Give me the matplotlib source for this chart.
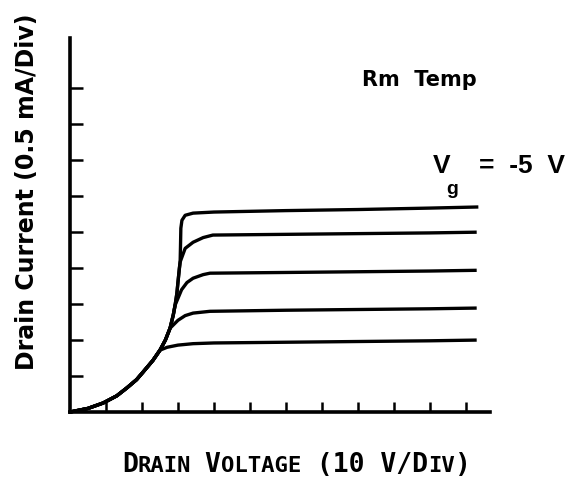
import matplotlib
matplotlib.use("Agg")
import matplotlib.pyplot as plt

# Shared rising trunk (Drain voltage in divisions, drain current in divisions)
trunk_x = [0.0, 0.5, 0.92, 1.3, 1.58, 1.85, 2.03, 2.3, 2.5, 2.65, 2.78, 2.87, 2.92, 2.97, 3.0, 3.04, 3.06, 3.07, 3.08, 3.11, 3.2, 3.42, 4.0, 6.0, 8.0, 10.0, 11.3]
trunk_y = [0.0, 0.1, 0.25, 0.45, 0.67, 0.9, 1.11, 1.43, 1.72, 2.0, 2.33, 2.7, 2.97, 3.3, 3.61, 4.0, 4.17, 4.6, 5.11, 5.33, 5.47, 5.53, 5.56, 5.6, 5.63, 5.67, 5.7]

# Branches (leaving the trunk after the given number of trunk points)
c1_branch = 9
c1_x = [2.7, 3.0, 3.42, 4.0, 6.0, 8.0, 10.0, 11.3]
c1_y = [1.8, 1.86, 1.9, 1.92, 1.94, 1.96, 1.98, 2.0]

c2_branch = 11
c2_x = [3.0, 3.2, 3.42, 3.89, 6.0, 8.0, 10.0, 11.3]
c2_y = [2.55, 2.68, 2.75, 2.8, 2.83, 2.85, 2.87, 2.89]

c3_branch = 13
c3_x = [3.1, 3.25, 3.42, 3.7, 3.89, 6.0, 8.0, 10.0, 11.3]
c3_y = [3.4, 3.6, 3.72, 3.82, 3.86, 3.88, 3.9, 3.92, 3.94]

c4_branch = 17
c4_x = [3.2, 3.42, 3.7, 3.97, 6.0, 8.0, 10.0, 11.3]
c4_y = [4.55, 4.72, 4.85, 4.92, 4.94, 4.96, 4.98, 5.0]

x_ticks = [1, 2, 3, 4, 5, 6, 7, 8, 9, 10, 11]
y_ticks = [1, 2, 3, 4, 5, 6, 7, 8, 9]

W, H = 579, 487
fig = plt.figure(figsize=(5.79, 4.87), dpi=100)
ax = fig.add_axes([0.1209, 0.154, 0.7254, 0.768])
ax.set_xlim(0, 11.67)
ax.set_ylim(0, 10.4)

lw = 2.4
for bx, by, n in [(c1_x, c1_y, c1_branch), (c2_x, c2_y, c2_branch),
                  (c3_x, c3_y, c3_branch), (c4_x, c4_y, c4_branch)]:
    ax.plot(trunk_x[:n] + bx, trunk_y[:n] + by, color="black", lw=lw,
            solid_capstyle="butt", solid_joinstyle="round", clip_on=False)
ax.plot(trunk_x, trunk_y, color="black", lw=lw, solid_joinstyle="round", clip_on=False)

for s in ["top", "right"]:
    ax.spines[s].set_visible(False)
for s in ["left", "bottom"]:
    ax.spines[s].set_linewidth(2.6)
ax.set_xticks(x_ticks)
ax.set_yticks(y_ticks)
ax.tick_params(axis="y", direction="in", length=9.5, width=1.8, labelleft=False)
ax.tick_params(axis="x", direction="in", length=7, width=1.8, labelbottom=False)

# Y label
fig.text(27 / W, 1 - 192 / H, "Drain Current (0.5 mA/Div)", rotation=90,
         ha="center", va="center", fontsize=17, fontweight="bold",
         family="DejaVu Sans")

# Annotations
fig.text(362 / W, 1 - 86 / H, "Rm  Temp", ha="left", va="baseline",
         fontsize=15, fontweight="bold", family="DejaVu Sans")

fig.canvas.draw()
renderer = fig.canvas.get_renderer()


def run_text(pieces, x0, y0, family):
    x = x0
    for txt, sz in pieces:
        t = fig.text(x / W, 1 - y0 / H, txt, ha="left", va="baseline",
                     fontsize=sz, fontweight="bold", family=family)
        bb = t.get_window_extent(renderer=renderer)
        x = x + bb.width


# V_g = -5 V
fig.text(433 / W, 1 - 173 / H, "V", ha="left", va="baseline",
         fontsize=19, fontweight="bold", family="Liberation Sans")
fig.text(446 / W, 1 - 194 / H, "g", ha="left", va="baseline",
         fontsize=14, fontweight="bold", family="Liberation Sans")
fig.text(479 / W, 1 - 173 / H, "=  -5  V", ha="left", va="baseline",
         fontsize=19, fontweight="bold", family="Liberation Sans")

# Small-caps x label
parts = [("D", 19), ("RAIN", 16), (" ", 16), ("V", 19), ("OLTAGE", 16),
         (" (10 V/D", 19), ("IV", 16), (")", 19)]
run_text(parts, 122, 472, "DejaVu Sans Mono")

fig.savefig("out.png", dpi=100)
